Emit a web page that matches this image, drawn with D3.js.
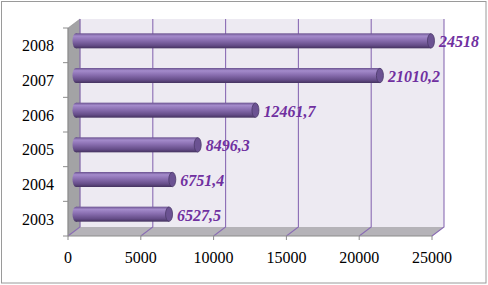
<!DOCTYPE html>
<html>
<head>
<meta charset="utf-8">
<script src="https://cdn.jsdelivr.net/npm/d3@7"></script>
<style>
  body { margin: 0; background: #fff; }
  svg { display: block; }
  text { font-family: "Liberation Serif", "Times New Roman", Times, "DejaVu Serif", serif; }
</style>
</head>
<body>
<svg width="488" height="285"></svg>
<script>
// data
const years = ["2003", "2004", "2005", "2006", "2007", "2008"];
const values = [6527.5, 6751.4, 8496.3, 12461.7, 21010.2, 24518];
const xTicks = [0, 5000, 10000, 15000, 20000, 25000];

const svg = d3.select("svg");
const width = +svg.attr("width");
const height = +svg.attr("height");

// front plane of the 3d box, depth offset goes right and up
const dx = 12, dy = -9;
const x = d3.scaleLinear().domain([0, 25000]).range([68, 432]);
const y = d3.scaleBand().domain(years.slice().reverse()).range([28, 236]).padding(0);
const x0 = x.range()[0], x1 = x.range()[1];
const y0 = y.range()[0], y1 = y.range()[1];

const locale = d3.formatLocale({ decimal: ",", thousands: "", grouping: [3], currency: ["", ""] });
const fmt = locale.format("~f");

// outer frame
svg.append("rect")
  .attr("x", 1.5).attr("y", 1.5)
  .attr("width", width - 3.5).attr("height", height - 3.5)
  .attr("fill", "#fff").attr("stroke", "#9a9a9a").attr("stroke-width", 1);

const defs = svg.append("defs");
const grad = defs.append("linearGradient").attr("id", "cyl")
  .attr("x1", 0).attr("y1", 0).attr("x2", 0).attr("y2", 1);
[["0%", "#6a528f"], ["18%", "#a48bcb"], ["45%", "#8a6fb1"], ["80%", "#654d88"], ["100%", "#44325f"]]
  .forEach(s => grad.append("stop").attr("offset", s[0]).attr("stop-color", s[1]));

const walls = svg.append("g").attr("id", "walls");

// back wall
walls.append("path")
  .attr("d", `M${x0 + dx},${y0 + dy}H${x1 + dx}V${y1 + dy}H${x0 + dx}Z`)
  .attr("fill", "#edeaf2");
// side wall
walls.append("path")
  .attr("d", `M${x0},${y0}L${x0 + dx},${y0 + dy}V${y1 + dy}L${x0},${y1}Z`)
  .attr("fill", "#a3a3a5").attr("stroke", "#8d8d8f").attr("stroke-width", 0.6);
// floor
walls.append("path")
  .attr("d", `M${x0},${y1}L${x0 + dx},${y1 + dy}H${x1 + dx}L${x1},${y1}Z`)
  .attr("fill", "#b5b3b8");

// gridlines on back wall and floor
const grid = svg.append("g").attr("id", "grid");
grid.selectAll("path")
  .data(xTicks)
  .enter()
  .append("path")
    .attr("d", d => `M${x(d) + dx},${y0 + dy}V${y1 + dy}L${x(d)},${y1}`)
    .attr("fill", "none")
    .attr("stroke", "#8a6cb4")
    .attr("stroke-width", 1.1);

// axes lines
const axes = svg.append("g").attr("id", "axes").attr("stroke", "#8c8c8c").attr("fill", "none");
axes.append("path").attr("d", `M${x0},${y0}V${y1}H${x1}`);
axes.selectAll(".xt").data(xTicks).enter().append("path")
  .attr("class", "xt")
  .attr("d", d => `M${x(d)},${y1}v4`);
axes.selectAll(".yt").data(years.concat(["end"])).enter().append("path")
  .attr("class", "yt")
  .attr("d", (d, i) => `M${x0},${y1 - i * y.bandwidth()}h-5`);

// tick labels
svg.append("g").selectAll("text")
  .data(xTicks)
  .enter()
  .append("text")
    .attr("x", d => x(d))
    .attr("y", 263)
    .attr("text-anchor", "middle")
    .attr("font-size", 16)
    .attr("fill", "#000")
    .text(d => d);

svg.append("g").selectAll("text")
  .data(years)
  .enter()
  .append("text")
    .attr("x", 54)
    .attr("y", d => y(d) + y.bandwidth() / 2 + 6)
    .attr("text-anchor", "end")
    .attr("font-size", 16)
    .attr("fill", "#000")
    .text(d => d);

// cylinder bars, sitting halfway into the depth
const barH = 15;
const bars = svg.append("g").attr("id", "bars")
  .selectAll("g")
  .data(years.map((yr, i) => ({ yr, v: values[i] })))
  .enter()
  .append("g")
    .attr("transform", d => `translate(${dx / 2},${y(d.yr) + y.bandwidth() / 2 + dy / 2 - barH / 2})`);

bars.append("ellipse")
  .attr("cx", x(0) + 2).attr("cy", barH / 2)
  .attr("rx", 3.5).attr("ry", barH / 2)
  .attr("fill", "url(#cyl)");
bars.append("rect")
  .attr("x", x(0) + 2)
  .attr("y", 0)
  .attr("width", d => x(d.v) - x(0) - 2)
  .attr("height", barH)
  .attr("fill", "url(#cyl)");
bars.append("ellipse")
  .attr("cx", d => x(d.v))
  .attr("cy", barH / 2)
  .attr("rx", 3.5).attr("ry", barH / 2 - 0.3)
  .attr("fill", "#6b5292")
  .attr("stroke", "#4a3868")
  .attr("stroke-width", 0.8);

// value labels
bars.append("text")
  .attr("x", d => x(d.v) + 8)
  .attr("y", barH / 2 + 6.5)
  .attr("font-size", 16)
  .attr("font-style", "italic")
  .attr("font-weight", "bold")
  .attr("fill", "#7030a0")
  .text(d => fmt(d.v));
</script>
</body>
</html>
